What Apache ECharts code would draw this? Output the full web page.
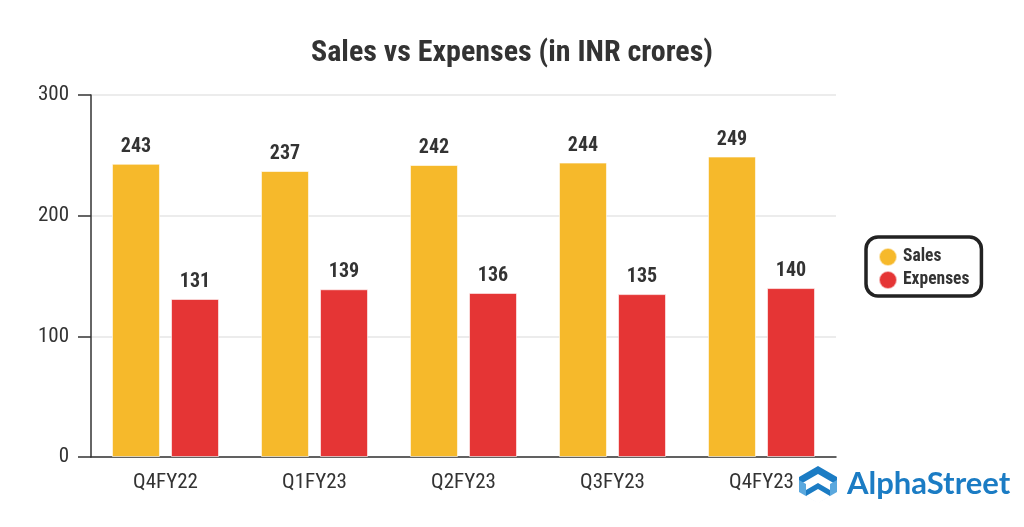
<!doctype html>
<html lang="en">
 <head>
  <meta charset="UTF-8">
  <style type="text/css">
  html,body{margin:0;padding:0;background:#fff;}
  #ecm1{width:1024px;height:527px;}
  </style>
  <script src="https://cdn.jsdelivr.net/npm/echarts@6/dist/echarts.min.js"></script>
  <title>Sales vs Expenses</title>
 </head>
 <body>
    <div id="ecm1"></div>
    <script type="text/javascript">
    // data
    var quarters = ["Q4FY22", "Q1FY23", "Q2FY23", "Q3FY23", "Q4FY23"];
    var sales = [243, 237, 242, 244, 249];
    var expenses = [131, 139, 136, 135, 140];
    var yTicks = [0, 100, 200, 300];

    var font = '"Roboto Condensed", "Liberation Sans Narrow", "DejaVu Sans Condensed", Roboto, sans-serif';
    var blue = '#1b7cc4';
    var lightBlue = '#5aa8de';

    var myChart = echarts.init(document.getElementById('ecm1'));

    var option1 = {
        backgroundColor: '#fff',
        textStyle: { fontFamily: font },
        title: {
            text: 'Sales vs Expenses (in INR crores)',
            left: 'center',
            top: 33,
            textStyle: { fontFamily: font, fontSize: 30, fontWeight: 'bold', color: '#333' }
        },
        color: ['#f6b92b', '#e53535'],
        legend: {
            orient: 'vertical',
            left: 866,
            top: 237,
            padding: [10, 12, 6, 12],
            borderColor: '#222',
            borderWidth: 3.5,
            borderRadius: 12,
            itemGap: 3,
            itemWidth: 18,
            itemHeight: 18,
            icon: 'circle',
            textStyle: { fontFamily: font, fontSize: 17.5, lineHeight: 18, fontWeight: 'bold', color: '#333', padding: [0, 0, 0, 1] },
            data: ['Sales', 'Expenses']
        },
        grid: {
            left: 91,
            right: 188,
            top: 95,
            bottom: 70
        },
        xAxis: [{
            type: 'category',
            data: quarters,
            axisLine: { lineStyle: { color: '#333', width: 1.5 } },
            axisTick: { alignWithLabel: true, length: 11, lineStyle: { color: '#333', width: 1.5 } },
            axisLabel: { fontFamily: font, fontSize: 21, color: '#333', margin: 15 }
        }],
        yAxis: [{
            type: 'value',
            min: yTicks[0],
            max: yTicks[yTicks.length - 1],
            interval: 100,
            axisLine: { show: true, lineStyle: { color: '#333', width: 1.5 } },
            axisTick: { show: true, length: 13, lineStyle: { color: '#333', width: 1.5 } },
            axisLabel: { fontFamily: font, fontSize: 21, color: '#333', margin: 22 },
            splitLine: { lineStyle: { color: '#e6e6e6', width: 1.5 } }
        }],
        series: [{
            name: 'Sales',
            type: 'bar',
            data: sales,
            barWidth: 48,
            barGap: '23%',
            itemStyle: { borderColor: 'rgba(255,255,255,0.6)', borderWidth: 1 },
            label: { show: true, position: 'top', distance: 7, fontFamily: font, fontSize: 20, fontWeight: 'bold', color: '#333' }
        }, {
            name: 'Expenses',
            type: 'bar',
            data: expenses,
            barWidth: 48,
            itemStyle: { borderColor: 'rgba(255,255,255,0.6)', borderWidth: 1 },
            label: { show: true, position: 'top', distance: 7, fontFamily: font, fontSize: 20, fontWeight: 'bold', color: '#333' }
        }],
        graphic: [
            // AlphaStreet logo
            { type: 'polygon', shape: { points: [[799,477],[818,466],[837,477],[837,485],[818,474],[799,485]] }, style: { fill: blue } },
            { type: 'polygon', shape: { points: [[799,480],[806,484],[806,496],[799,492]] }, style: { fill: lightBlue } },
            { type: 'polygon', shape: { points: [[837,480],[830,484],[830,496],[837,492]] }, style: { fill: lightBlue } },
            { type: 'polygon', shape: { points: [[806,490],[818,483],[830,490],[830,496],[818,489],[806,496]] }, style: { fill: blue } },
            { type: 'polygon', shape: { points: [[799,492],[818,503],[837,492],[830,496],[818,503],[806,496]] }, style: { fill: blue } },
            { type: 'text', left: 847, top: 468, style: { text: 'AlphaStreet', fill: blue, font: 'bold 31px Lato, "Open Sans", sans-serif' } }
        ]
    };

    myChart.setOption(option1);
    </script>
 </body>
</html>
